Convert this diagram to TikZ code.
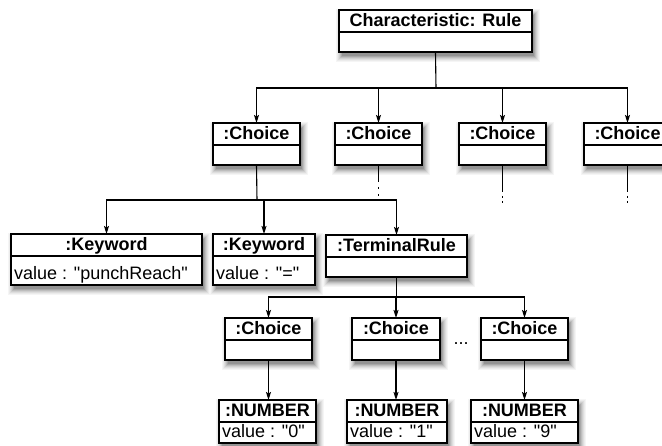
\documentclass[tikz,border=0pt]{standalone}
\usepackage{fontspec}
\setmainfont{Liberation Sans}[Ligatures=TeXOff]
\usetikzlibrary{arrows.meta}

\tikzset{
  objbox/.style={draw, line width=1.3pt, fill=white, inner sep=0pt, outer sep=0pt},
  objline/.style={line width=1.1pt},
  objtitle/.style={font=\fontsize{18}{20}\selectfont\bfseries, inner sep=0pt, anchor=base},
  objvalue/.style={font=\fontsize{18}{20}\selectfont, inner sep=0pt, anchor=base west},
  link/.style={line width=1.1pt},
  arr/.style={link, -{Stealth[length=8pt, width=5pt, inset=1.5pt]}},
}

% UML-Objekt: Name, links, oben, rechts, unten, Titel, Wert
\newcommand{\umlobj}[7]{%
  \node[objbox, minimum width=#4-#2, minimum height=#5-#3] (#1) at ({(#2+#4)/2}, {(#3+#5)/2}) {};
  \draw[objline] ([yshift=-22pt]#1.north west) -- ([yshift=-22pt]#1.north east);
  \node[objtitle] (#1-title) at ([yshift=-16.5pt]#1.north) {#6};
  \node[objvalue] (#1-value) at ([xshift=3pt, yshift=5.5pt]#1.south west) {#7};
}

\begin{document}
\begin{tikzpicture}[x=1pt, y=-1pt]
  \useasboundingbox (0,0) rectangle (662,446);

  % Schatten
  \foreach \bl/\bt/\br/\bb in {339/10/532/52,
      213/123/300/165, 335/123/422/165, 459/123/546/165, 584/123/671/165,
      11/234/202/285, 213/234/315/285, 326/235/467/277,
      225/318/312/360, 352/318/440/360, 481/318/568/360,
      219/400/316/443, 347/400/447/443, 471/400/578/443}
    \foreach \s/\g in {6/4,5/8,4/13,3/19,2/26,1/34,0/42}
      \fill[black!\g] (\bl+3-\s, \bt+5-\s) rectangle (\br+2+\s, \bb+4+\s);

  % Wurzel
  \umlobj{rule}{339}{10}{532}{52}{Characteristic: Rule}{}

  % erste Ebene
  \umlobj{ch1}{213}{123}{300}{165}{:Choice}{}
  \umlobj{ch2}{335}{123}{422}{165}{:Choice}{}
  \umlobj{ch3}{459}{123}{546}{165}{:Choice}{}
  \umlobj{ch4}{584}{123}{671}{165}{:Choice}{}

  % zweite Ebene
  \umlobj{kw1}{11}{234}{202}{285}{:Keyword}{value : "punchReach"}
  \umlobj{kw2}{213}{234}{315}{285}{:Keyword}{value : "="}
  \umlobj{term}{326}{235}{467}{277}{:TerminalRule}{}

  % dritte Ebene
  \umlobj{sub1}{225}{318}{312}{360}{:Choice}{}
  \umlobj{sub2}{352}{318}{440}{360}{:Choice}{}
  \umlobj{sub3}{481}{318}{568}{360}{:Choice}{}
  \node[font=\fontsize{18}{20}\selectfont] (gap) at (461,344) {...};

  % Blaetter
  \umlobj{num1}{219}{400}{316}{443}{:NUMBER}{value : "0"}
  \umlobj{num2}{347}{400}{447}{443}{:NUMBER}{value : "1"}
  \umlobj{num3}{471}{400}{578}{443}{:NUMBER}{value : "9"}

  % Verbindungen
  \coordinate (bus1) at (436,88);
  \coordinate (bus2) at (257,200);
  \coordinate (bus3) at (396.5,297);
  \draw[link] (rule.south) -- (bus1);
  \foreach \c in {ch1, ch2, ch3, ch4}
    \draw[arr] (bus1) -| (\c.north);

  \draw[link] (ch1.south) -- (bus2);
  \foreach \c in {kw1, kw2, term}
    \draw[arr] (bus2) -| (\c.north);

  \draw[link] (term.south) -- (bus3);
  \foreach \c in {sub1, sub2, sub3}
    \draw[arr] (bus3) -| (\c.north);

  \draw[arr] (sub1.south) -- (sub1.south |- num1.north);
  \draw[arr] (sub2.south) -- (sub2.south |- num2.north);
  \draw[arr] (sub3.south) -- (sub3.south |- num3.north);

  % abgebrochene Zweige
  \draw[link, dash pattern=on 17pt off 5pt on 2pt off 5pt on 2pt] (ch2.south) -- ++(0,31);
  \draw[link, dash pattern=on 27pt off 4pt on 2pt off 3pt on 2pt] (ch3.south) -- ++(0,38);
  \draw[link, dash pattern=on 27pt off 4pt on 2pt off 3pt on 2pt] (ch4.south) -- ++(0,38);
\end{tikzpicture}
\end{document}
